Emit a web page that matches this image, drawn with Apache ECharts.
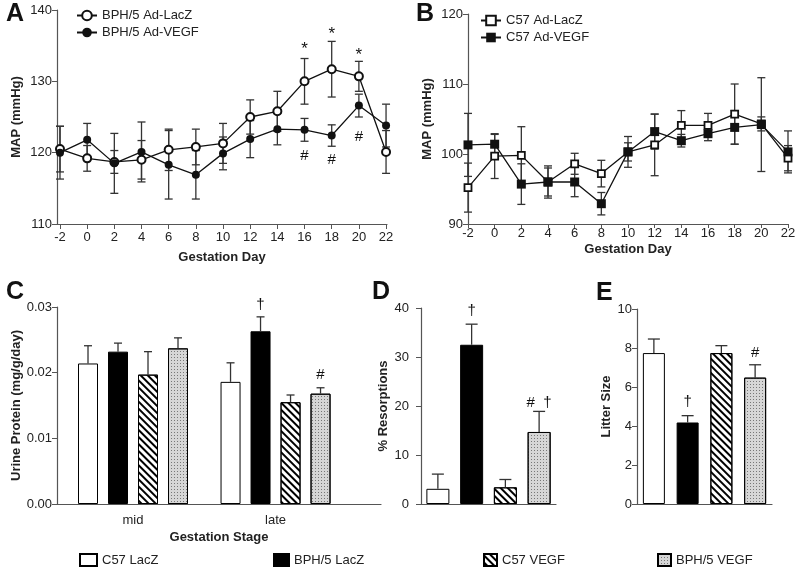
<!DOCTYPE html>
<html>
<head>
<meta charset="utf-8">
<script src="https://cdn.jsdelivr.net/npm/echarts@6/dist/echarts.min.js"></script>
<style>
html,body{margin:0;padding:0;background:#fff;}
#main{width:800px;height:570px;}
</style>
</head>
<body>
<div id="main"></div>
<script>
// ---- data ----
var days = [-2, 0, 2, 4, 6, 8, 10, 12, 14, 16, 18, 20, 22];

// panel A (BPH/5)
var bphLacZ    = [120.5, 119.2, 118.7, 119.0, 120.4, 120.8, 121.3, 125.0, 125.8, 130.0, 131.7, 130.7, 120.1];
var bphLacZErr = [3.2, 1.8, 1.6, 2.7, 2.9, 2.5, 2.8, 2.4, 2.8, 3.2, 3.9, 2.1, 3.0];
var bphVegf    = [120.0, 121.8, 118.5, 120.1, 118.3, 116.9, 119.9, 121.9, 123.3, 123.2, 122.4, 126.6, 123.8];
var bphVegfErr = [3.7, 2.3, 4.2, 4.2, 4.8, 3.4, 2.3, 2.6, 2.2, 1.6, 1.5, 1.6, 3.0];
var starsA = [[16, 134.5], [18, 136.6], [20, 133.7]];
var hashA  = [[16, 119.5], [18, 119.0], [20, 122.2]];

// panel B (C57)
var c57LacZ    = [95.2, 99.7, 99.8, 96.0, 98.6, 97.2, 100.3, 101.3, 104.1, 104.1, 105.7, 104.3, 99.4];
var c57LacZErr = [3.5, 3.2, 4.1, 2.3, 1.5, 1.9, 2.2, 4.4, 2.1, 1.7, 4.3, 1.0, 1.8];
var c57Vegf    = [101.3, 101.4, 95.7, 96.0, 96.0, 92.9, 100.3, 103.2, 101.9, 102.9, 103.8, 104.2, 100.3];
var c57VegfErr = [4.5, 1.4, 2.9, 2.0, 2.1, 1.6, 1.3, 2.5, 0.9, 1.0, 2.4, 6.7, 3.0];

// panel C urine protein, stages mid / late
var stages = ['mid', 'late'];
var stagePos = [1, 2];
var groups = ['C57 LacZ', 'BPH/5 LacZ', 'C57 VEGF', 'BPH/5 VEGF'];
var urine    = [[0.0214, 0.0186], [0.0232, 0.0263], [0.0197, 0.0155], [0.0237, 0.0168]];
var urineErr = [[0.0027, 0.0029], [0.0013, 0.0022], [0.0035, 0.0011], [0.0016, 0.0009]];
var urineMarks = [[2, 1, 0.0303, '†'], [2, 3, 0.0197, '#']]; // stage, group, y, text

// panel D resorptions, panel E litter size
var resorb    = [3.1, 32.5, 3.4, 14.7];
var resorbErr = [3.0, 4.2, 1.6, 4.2];
var resorbMarks = [[1, 39.5, '†'], [3, 20.6, '#  †']];
var litter    = [7.74, 4.18, 7.74, 6.48];
var litterErr = [0.72, 0.35, 0.38, 0.66];
var litterMarks = [[1, 5.26, '†'], [3, 7.77, '#']];

var FONT = '"Liberation Sans", Arial, sans-serif';
var AX = '#555';
var TXT = '#222';

var hatch = {symbol: 'rect', symbolSize: 1, dashArrayX: [1, 0], dashArrayY: [1.3, 2.7], rotation: Math.PI / 4, color: '#000'};
var dots = {symbol: 'rect', symbolSize: 1, dashArrayX: [1, 2], dashArrayY: [1, 2], color: '#777'};
var groupStyle = [
  {color: '#fff', borderColor: '#000', borderWidth: 1},
  {color: '#000', borderColor: '#000', borderWidth: 1},
  {color: '#fff', borderColor: '#000', borderWidth: 1, decal: hatch},
  {color: '#d6d6d6', borderColor: '#000', borderWidth: 1, decal: dots}
];

var barW = 20, barStep = 30; // C: bar width and gap 50%

function errRender(capHalf, both, offsets) {
  return function (params, api) {
    var x = api.value(0), lo = api.value(1), hi = api.value(2);
    var off = offsets ? offsets[params.dataIndex] : 0;
    var a = api.coord([x, hi]), b = api.coord([x, lo]);
    var cx = a[0] + off;
    var st = {stroke: '#333', lineWidth: 1.3};
    var kids = [
      {type: 'line', shape: {x1: cx, y1: b[1], x2: cx, y2: a[1]}, style: st},
      {type: 'line', shape: {x1: cx - capHalf, y1: a[1], x2: cx + capHalf, y2: a[1]}, style: st}
    ];
    if (both) kids.push({type: 'line', shape: {x1: cx - capHalf, y1: b[1], x2: cx + capHalf, y2: b[1]}, style: st});
    return {type: 'group', children: kids};
  };
}

function markRender(texts, offsets, size) {
  return function (params, api) {
    var p = api.coord([api.value(0), api.value(1)]);
    var off = offsets ? offsets[params.dataIndex] : 0;
    return {type: 'text', x: p[0] + off, y: p[1],
      style: {text: texts[params.dataIndex], fill: '#111', font: (size || 15) + 'px ' + FONT,
        align: 'center', verticalAlign: 'middle'}};
  };
}

function rangeData(xs, v, e) {
  return xs.map(function (d, i) { return [d, v[i] - e[i], v[i] + e[i]]; });
}
function upData(xs, v, e) {
  return xs.map(function (d, i) { return [d, v[i], v[i] + e[i]]; });
}

function yAx(gi, min, max, step, name, gap, margin, fmt) {
  return {
    gridIndex: gi, type: 'value', min: min, max: max, interval: step,
    name: name, nameLocation: 'middle', nameGap: gap,
    nameTextStyle: {fontFamily: FONT, fontSize: 13, fontWeight: 'bold', color: TXT},
    axisLine: {show: true, onZero: false, lineStyle: {color: AX, width: 1.2}},
    axisTick: {show: true, length: 5, lineStyle: {color: AX}},
    axisLabel: {fontFamily: FONT, fontSize: 13, color: TXT, margin: margin, formatter: fmt},
    splitLine: {show: false}
  };
}

var dayLabels = {customValues: days, fontFamily: FONT, fontSize: 13, color: TXT};

var option = {
  animation: false,
  backgroundColor: '#fff',
  title: [
    {text: 'A', left: 6, top: 2},
    {text: 'B', left: 416, top: 2},
    {text: 'C', left: 6, top: 280},
    {text: 'D', left: 372, top: 280},
    {text: 'E', left: 596, top: 281}
  ].map(function (t) {
    t.textStyle = {fontFamily: FONT, fontSize: 25, fontWeight: 'bold', color: '#111'};
    t.padding = 0;
    return t;
  }),
  legend: [
    {data: ['BPH/5 Ad-LacZ', 'BPH/5 Ad-VEGF'], left: 76, top: 9, orient: 'vertical', itemGap: 4, itemWidth: 20, itemHeight: 12},
    {data: ['C57 Ad-LacZ', 'C57 Ad-VEGF'], left: 480, top: 14, orient: 'vertical', itemGap: 4, itemWidth: 20, itemHeight: 12},
    {data: ['C57 LacZ'], left: 79, top: 553, itemWidth: 17, itemHeight: 12, icon: 'rect'},
    {data: ['BPH/5 LacZ'], left: 273, top: 553, itemWidth: 15, itemHeight: 12, icon: 'rect'},
    {data: ['C57 VEGF'], left: 483, top: 553, itemWidth: 13, itemHeight: 12, icon: 'rect'},
    {data: ['BPH/5 VEGF'], left: 657, top: 553, itemWidth: 13, itemHeight: 12, icon: 'rect'}
  ].map(function (l) {
    l.textStyle = {fontFamily: FONT, fontSize: 13, color: TXT};
    l.selectedMode = false;
    l.padding = 0;
    return l;
  }),
  grid: [
    {left: 57, top: 10, width: 330, height: 214},
    {left: 468, top: 14, width: 320, height: 210},
    {left: 57, top: 307, width: 324, height: 197},
    {left: 421, top: 308, width: 135, height: 196},
    {left: 637, top: 309, width: 135, height: 195}
  ],
  xAxis: [
    {gridIndex: 0, type: 'value', min: -2.22, max: 22.07,
      name: 'Gestation Day', nameLocation: 'middle', nameGap: 27,
      nameTextStyle: {fontFamily: FONT, fontSize: 13, fontWeight: 'bold', color: TXT},
      axisLine: {onZero: false, lineStyle: {color: AX, width: 1.2}},
      axisTick: {customValues: days, length: 5, lineStyle: {color: AX}},
      axisLabel: Object.assign({margin: 7}, dayLabels), splitLine: {show: false}},
    {gridIndex: 1, type: 'value', min: -2, max: 22,
      name: 'Gestation Day', nameLocation: 'middle', nameGap: 19,
      nameTextStyle: {fontFamily: FONT, fontSize: 13, fontWeight: 'bold', color: TXT},
      axisLine: {onZero: false, lineStyle: {color: AX, width: 1.2}},
      axisTick: {customValues: days, length: 4, lineStyle: {color: AX}},
      axisLabel: Object.assign({margin: 3}, dayLabels), splitLine: {show: false}},
    {gridIndex: 2, type: 'value', min: 0.4667, max: 2.74,
      name: 'Gestation Stage', nameLocation: 'middle', nameGap: 27,
      nameTextStyle: {fontFamily: FONT, fontSize: 13, fontWeight: 'bold', color: TXT},
      axisLine: {onZero: false, lineStyle: {color: AX, width: 1.2}},
      axisTick: {show: false},
      axisLabel: {customValues: stagePos, margin: 10, fontFamily: FONT, fontSize: 13, color: TXT,
        formatter: function (v) { return stages[stagePos.indexOf(Math.round(v))] || ''; }},
      splitLine: {show: false}},
    {gridIndex: 3, type: 'category', data: groups,
      axisLine: {lineStyle: {color: AX, width: 1.2}}, axisTick: {show: false}, axisLabel: {show: false}},
    {gridIndex: 4, type: 'category', data: groups,
      axisLine: {lineStyle: {color: AX, width: 1.2}}, axisTick: {show: false}, axisLabel: {show: false}}
  ],
  yAxis: [
    yAx(0, 110, 140, 10, 'MAP (mmHg)', 34, 5),
    yAx(1, 90, 120, 10, 'MAP (mmHg)', 34, 5),
    yAx(2, 0, 0.03, 0.01, 'Urine Protein (mg/g/day)', 34, 5, function (v) { return v.toFixed(2); }),
    yAx(3, 0, 40, 10, '% Resorptions', 31, 12),
    yAx(4, 0, 10, 2, 'Litter Size', 24, 5)
  ],
  series: []
};

var S = option.series;

// panel A
S.push({type: 'custom', xAxisIndex: 0, yAxisIndex: 0, z: 1, renderItem: errRender(4, true), data: rangeData(days, bphLacZ, bphLacZErr)});
S.push({type: 'custom', xAxisIndex: 0, yAxisIndex: 0, z: 1, renderItem: errRender(4, true), data: rangeData(days, bphVegf, bphVegfErr)});
S.push({name: 'BPH/5 Ad-LacZ', type: 'line', xAxisIndex: 0, yAxisIndex: 0, z: 3,
  data: days.map(function (d, i) { return [d, bphLacZ[i]]; }),
  symbol: 'circle', symbolSize: 8, lineStyle: {color: '#111', width: 1.3},
  itemStyle: {color: '#fff', borderColor: '#111', borderWidth: 2}});
S.push({name: 'BPH/5 Ad-VEGF', type: 'line', xAxisIndex: 0, yAxisIndex: 0, z: 3,
  data: days.map(function (d, i) { return [d, bphVegf[i]]; }),
  symbol: 'circle', symbolSize: 8, lineStyle: {color: '#111', width: 1.3},
  itemStyle: {color: '#111', borderColor: '#111', borderWidth: 0}});
S.push({type: 'custom', xAxisIndex: 0, yAxisIndex: 0, z: 4, renderItem: markRender(starsA.map(function () { return '*'; }), null, 17), data: starsA});
S.push({type: 'custom', xAxisIndex: 0, yAxisIndex: 0, z: 4, renderItem: markRender(hashA.map(function () { return '#'; }), null, 15), data: hashA});

// panel B
S.push({type: 'custom', xAxisIndex: 1, yAxisIndex: 1, z: 1, renderItem: errRender(4, true), data: rangeData(days, c57LacZ, c57LacZErr)});
S.push({type: 'custom', xAxisIndex: 1, yAxisIndex: 1, z: 1, renderItem: errRender(4, true), data: rangeData(days, c57Vegf, c57VegfErr)});
S.push({name: 'C57 Ad-LacZ', type: 'line', xAxisIndex: 1, yAxisIndex: 1, z: 3,
  data: days.map(function (d, i) { return [d, c57LacZ[i]]; }),
  symbol: 'rect', symbolSize: 7, lineStyle: {color: '#111', width: 1.3},
  itemStyle: {color: '#fff', borderColor: '#111', borderWidth: 1.8}});
S.push({name: 'C57 Ad-VEGF', type: 'line', xAxisIndex: 1, yAxisIndex: 1, z: 3,
  data: days.map(function (d, i) { return [d, c57Vegf[i]]; }),
  symbol: 'rect', symbolSize: 9, lineStyle: {color: '#111', width: 1.3},
  itemStyle: {color: '#111', borderColor: '#111', borderWidth: 0}});

// panel C
groups.forEach(function (g, k) {
  S.push({name: g, type: 'bar', xAxisIndex: 2, yAxisIndex: 2, barWidth: barW, barGap: '50%',
    data: stagePos.map(function (p, i) { return [p, urine[k][i]]; }),
    itemStyle: groupStyle[k]});
});
groups.forEach(function (g, k) {
  var off = (k - 1.5) * barStep;
  S.push({type: 'custom', xAxisIndex: 2, yAxisIndex: 2, z: 3,
    renderItem: errRender(4, false, stagePos.map(function () { return off; })),
    data: upData(stagePos, urine[k], urineErr[k])});
});
S.push({type: 'custom', xAxisIndex: 2, yAxisIndex: 2, z: 4,
  renderItem: markRender(urineMarks.map(function (m) { return m[3]; }), urineMarks.map(function (m) { return (m[1] - 1.5) * barStep; })),
  data: urineMarks.map(function (m) { return [m[0], m[2]]; })});

// panel D
S.push({type: 'bar', xAxisIndex: 3, yAxisIndex: 3, barWidth: 23,
  data: resorb.map(function (v, i) { return {value: v, itemStyle: groupStyle[i]}; })});
S.push({type: 'custom', xAxisIndex: 3, yAxisIndex: 3, z: 3, renderItem: errRender(6, false),
  data: upData([0, 1, 2, 3], resorb, resorbErr)});
S.push({type: 'custom', xAxisIndex: 3, yAxisIndex: 3, z: 4,
  renderItem: markRender(resorbMarks.map(function (m) { return m[2]; })),
  data: resorbMarks.map(function (m) { return [m[0], m[1]]; })});

// panel E
S.push({type: 'bar', xAxisIndex: 4, yAxisIndex: 4, barWidth: 22,
  data: litter.map(function (v, i) { return {value: v, itemStyle: groupStyle[i]}; })});
S.push({type: 'custom', xAxisIndex: 4, yAxisIndex: 4, z: 3, renderItem: errRender(6, false),
  data: upData([0, 1, 2, 3], litter, litterErr)});
S.push({type: 'custom', xAxisIndex: 4, yAxisIndex: 4, z: 4,
  renderItem: markRender(litterMarks.map(function (m) { return m[2]; })),
  data: litterMarks.map(function (m) { return [m[0], m[1]]; })});

var chart = echarts.init(document.getElementById('main'), null, {renderer: 'canvas'});
chart.setOption(option);
</script>
</body>
</html>
